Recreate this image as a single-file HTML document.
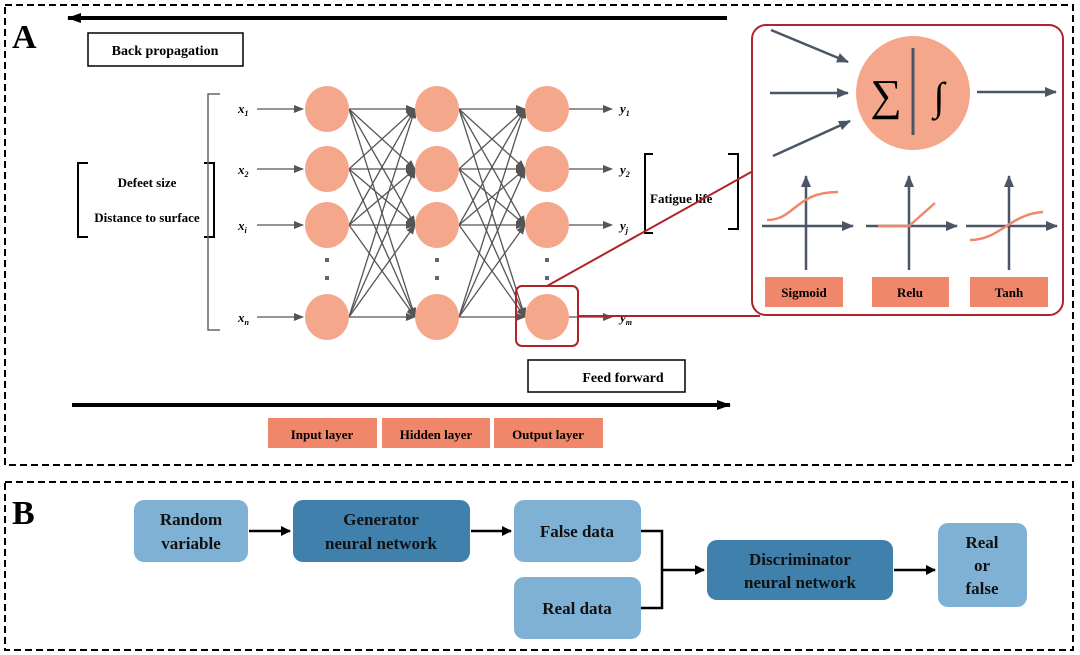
<!DOCTYPE html>
<html><head><meta charset="utf-8"><style>
html,body{margin:0;padding:0;background:#fff;}
svg{display:block;}
text{font-family:"Liberation Serif",serif;font-weight:bold;}
text.n{font-weight:normal;}
</style></head><body>
<svg width="1080" height="655" viewBox="0 0 1080 655" xmlns="http://www.w3.org/2000/svg">
<defs>
<marker id="ag" markerWidth="10" markerHeight="8" refX="9" refY="4" orient="auto" markerUnits="userSpaceOnUse"><path d="M0,0 L10,4 L0,8 z" fill="#555"/></marker>
<marker id="ab" markerWidth="14" markerHeight="10" refX="13" refY="5" orient="auto" markerUnits="userSpaceOnUse"><path d="M0,0 L14,5 L0,10 z" fill="#000"/></marker>
<marker id="as" markerWidth="12" markerHeight="10" refX="11" refY="5" orient="auto" markerUnits="userSpaceOnUse"><path d="M0,0 L12,5 L0,10 z" fill="#4a5566"/></marker>
<marker id="ak" markerWidth="10" markerHeight="10" refX="9" refY="5" orient="auto" markerUnits="userSpaceOnUse"><path d="M0,0 L10,5 L0,10 z" fill="#000"/></marker>
</defs>
<rect x="5" y="5" width="1068" height="460" fill="none" stroke="#000" stroke-width="2" stroke-dasharray="7,4"/>
<rect x="5" y="482" width="1068" height="168" fill="none" stroke="#000" stroke-width="2" stroke-dasharray="7,4"/>
<text x="12" y="48" font-size="34">A</text>
<text x="12" y="524" font-size="34">B</text>
<line x1="727" y1="18" x2="68" y2="18" stroke="#000" stroke-width="4" marker-end="url(#ab)"/>
<line x1="72" y1="405" x2="730" y2="405" stroke="#000" stroke-width="4" marker-end="url(#ab)"/>
<rect x="88" y="33" width="155" height="33" fill="#fff" stroke="#000" stroke-width="1.5"/>
<text x="165" y="55" font-size="14" text-anchor="middle">Back propagation</text>
<rect x="528" y="360" width="157" height="32" fill="#fff" stroke="#000" stroke-width="1.5"/>
<text x="623" y="382" font-size="14" text-anchor="middle">Feed forward</text>
<path d="M88,163 H78 V237 H88 M204,163 H214 V237 H204" fill="none" stroke="#000" stroke-width="2"/>
<text x="147" y="187" font-size="13" text-anchor="middle">Defeet size</text>
<text x="147" y="222" font-size="13" text-anchor="middle">Distance to surface</text>
<path d="M220,94 H208 V330 H220" fill="none" stroke="#666" stroke-width="1.5"/>
<path d="M653,154 H645 V233 H653 M728,154 H738 V229 H728" fill="none" stroke="#000" stroke-width="2"/>
<text x="650" y="203" font-size="13">Fatigue life</text>
<g stroke="#555" stroke-width="1.3">
<line x1="349" y1="109" x2="415" y2="109" marker-end="url(#ag)"/><line x1="349" y1="109" x2="415" y2="169" marker-end="url(#ag)"/><line x1="349" y1="109" x2="415" y2="225" marker-end="url(#ag)"/><line x1="349" y1="109" x2="415" y2="317" marker-end="url(#ag)"/>
<line x1="349" y1="169" x2="415" y2="109" marker-end="url(#ag)"/><line x1="349" y1="169" x2="415" y2="169" marker-end="url(#ag)"/><line x1="349" y1="169" x2="415" y2="225" marker-end="url(#ag)"/><line x1="349" y1="169" x2="415" y2="317" marker-end="url(#ag)"/>
<line x1="349" y1="225" x2="415" y2="109" marker-end="url(#ag)"/><line x1="349" y1="225" x2="415" y2="169" marker-end="url(#ag)"/><line x1="349" y1="225" x2="415" y2="225" marker-end="url(#ag)"/><line x1="349" y1="225" x2="415" y2="317" marker-end="url(#ag)"/>
<line x1="349" y1="317" x2="415" y2="109" marker-end="url(#ag)"/><line x1="349" y1="317" x2="415" y2="169" marker-end="url(#ag)"/><line x1="349" y1="317" x2="415" y2="225" marker-end="url(#ag)"/><line x1="349" y1="317" x2="415" y2="317" marker-end="url(#ag)"/>
<line x1="459" y1="109" x2="525" y2="109" marker-end="url(#ag)"/><line x1="459" y1="109" x2="525" y2="169" marker-end="url(#ag)"/><line x1="459" y1="109" x2="525" y2="225" marker-end="url(#ag)"/><line x1="459" y1="109" x2="525" y2="317" marker-end="url(#ag)"/>
<line x1="459" y1="169" x2="525" y2="109" marker-end="url(#ag)"/><line x1="459" y1="169" x2="525" y2="169" marker-end="url(#ag)"/><line x1="459" y1="169" x2="525" y2="225" marker-end="url(#ag)"/><line x1="459" y1="169" x2="525" y2="317" marker-end="url(#ag)"/>
<line x1="459" y1="225" x2="525" y2="109" marker-end="url(#ag)"/><line x1="459" y1="225" x2="525" y2="169" marker-end="url(#ag)"/><line x1="459" y1="225" x2="525" y2="225" marker-end="url(#ag)"/><line x1="459" y1="225" x2="525" y2="317" marker-end="url(#ag)"/>
<line x1="459" y1="317" x2="525" y2="109" marker-end="url(#ag)"/><line x1="459" y1="317" x2="525" y2="169" marker-end="url(#ag)"/><line x1="459" y1="317" x2="525" y2="225" marker-end="url(#ag)"/><line x1="459" y1="317" x2="525" y2="317" marker-end="url(#ag)"/>
<line x1="257" y1="109" x2="303" y2="109" marker-end="url(#ag)"/><line x1="257" y1="169" x2="303" y2="169" marker-end="url(#ag)"/><line x1="257" y1="225" x2="303" y2="225" marker-end="url(#ag)"/><line x1="257" y1="317" x2="303" y2="317" marker-end="url(#ag)"/>
<line x1="569" y1="109" x2="612" y2="109" marker-end="url(#ag)"/><line x1="569" y1="169" x2="612" y2="169" marker-end="url(#ag)"/><line x1="569" y1="225" x2="612" y2="225" marker-end="url(#ag)"/><line x1="569" y1="317" x2="612" y2="317" marker-end="url(#ag)"/>
</g>
<g fill="#f5a78c">
<ellipse cx="327" cy="109" rx="22" ry="23"/><ellipse cx="327" cy="169" rx="22" ry="23"/><ellipse cx="327" cy="225" rx="22" ry="23"/><ellipse cx="327" cy="317" rx="22" ry="23"/>
<ellipse cx="437" cy="109" rx="22" ry="23"/><ellipse cx="437" cy="169" rx="22" ry="23"/><ellipse cx="437" cy="225" rx="22" ry="23"/><ellipse cx="437" cy="317" rx="22" ry="23"/>
<ellipse cx="547" cy="109" rx="22" ry="23"/><ellipse cx="547" cy="169" rx="22" ry="23"/><ellipse cx="547" cy="225" rx="22" ry="23"/><ellipse cx="547" cy="317" rx="22" ry="23"/>
</g>
<g fill="#666"><rect x="325" y="258" width="4" height="4"/><rect x="325" y="276" width="4" height="4"/><rect x="435" y="258" width="4" height="4"/><rect x="435" y="276" width="4" height="4"/><rect x="545" y="258" width="4" height="4"/><rect x="545" y="276" width="4" height="4"/></g>
<g font-size="13" font-style="italic">
<text x="238" y="113">x<tspan font-size="8" dy="3">1</tspan></text><text x="238" y="174">x<tspan font-size="8" dy="3">2</tspan></text><text x="238" y="230">x<tspan font-size="8" dy="3">i</tspan></text><text x="238" y="322">x<tspan font-size="8" dy="3">n</tspan></text>
<text x="620" y="113">y<tspan font-size="8" dy="3">1</tspan></text><text x="620" y="174">y<tspan font-size="8" dy="3">2</tspan></text><text x="620" y="230">y<tspan font-size="8" dy="3">j</tspan></text><text x="620" y="322">y<tspan font-size="8" dy="3">m</tspan></text>
</g>
<g stroke="#b0232a" stroke-width="2" fill="none">
<rect x="516" y="286" width="62" height="60" rx="6"/>
<line x1="547" y1="286" x2="753" y2="171"/>
<line x1="578" y1="316" x2="760" y2="316"/>
<rect x="752" y="25" width="311" height="290" rx="14" fill="#fff"/>
</g>
<circle cx="913" cy="93" r="57" fill="#f5a78c"/>
<line x1="913" y1="48" x2="913" y2="135" stroke="#4a5566" stroke-width="3"/>
<text class="n" x="886" y="110" font-size="44" text-anchor="middle">∑</text>
<text class="n" x="939" y="110" font-size="40" text-anchor="middle">∫</text>
<g stroke="#4a5566" stroke-width="2.5">
<line x1="771" y1="30" x2="848" y2="62" marker-end="url(#as)"/>
<line x1="770" y1="93" x2="848" y2="93" marker-end="url(#as)"/>
<line x1="773" y1="156" x2="850" y2="121" marker-end="url(#as)"/>
<line x1="977" y1="92" x2="1056" y2="92" marker-end="url(#as)"/>
<line x1="806" y1="270" x2="806" y2="176" marker-end="url(#as)"/><line x1="762" y1="226" x2="853" y2="226" marker-end="url(#as)"/>
<line x1="909" y1="270" x2="909" y2="176" marker-end="url(#as)"/><line x1="866" y1="226" x2="957" y2="226" marker-end="url(#as)"/>
<line x1="1009" y1="270" x2="1009" y2="176" marker-end="url(#as)"/><line x1="966" y1="226" x2="1057" y2="226" marker-end="url(#as)"/>
</g>
<g stroke="#f0876a" stroke-width="2.5" fill="none">
<path d="M767,220 C795,220 795,192 838,192"/>
<path d="M878,226 H909 L935,203"/>
<path d="M970,240 C1000,240 1010,214 1043,212"/>
</g>
<g fill="#f0876a">
<rect x="765" y="277" width="78" height="30"/><rect x="872" y="277" width="77" height="30"/><rect x="970" y="277" width="78" height="30"/>
<rect x="268" y="418" width="109" height="30"/><rect x="382" y="418" width="108" height="30"/><rect x="494" y="418" width="109" height="30"/>
</g>
<g font-size="13" text-anchor="middle">
<text x="804" y="297">Sigmoid</text><text x="910" y="297">Relu</text><text x="1009" y="297">Tanh</text>
<text x="322" y="439">Input layer</text><text x="436" y="439">Hidden layer</text><text x="548" y="439">Output layer</text>
</g>
<g>
<rect x="134" y="500" width="114" height="62" rx="10" fill="#7fb1d5"/>
<rect x="293" y="500" width="177" height="62" rx="10" fill="#3f80ad"/>
<rect x="514" y="500" width="127" height="62" rx="10" fill="#7fb1d5"/>
<rect x="514" y="577" width="127" height="62" rx="10" fill="#7fb1d5"/>
<rect x="707" y="540" width="186" height="60" rx="10" fill="#3f80ad"/>
<rect x="938" y="523" width="89" height="84" rx="10" fill="#7fb1d5"/>
</g>
<g stroke="#000" stroke-width="2.5" fill="none">
<line x1="249" y1="531" x2="290" y2="531" marker-end="url(#ak)"/>
<line x1="471" y1="531" x2="511" y2="531" marker-end="url(#ak)"/>
<path d="M641,531 H662 V608 H641"/>
<line x1="662" y1="570" x2="704" y2="570" marker-end="url(#ak)"/>
<line x1="894" y1="570" x2="935" y2="570" marker-end="url(#ak)"/>
</g>
<g font-size="17" text-anchor="middle" fill="#111">
<text x="191" y="525">Random</text><text x="191" y="549">variable</text>
<text x="381" y="525">Generator</text><text x="381" y="549">neural network</text>
<text x="577" y="537">False data</text>
<text x="577" y="614">Real data</text>
<text x="800" y="565">Discriminator</text><text x="800" y="588">neural network</text>
<text x="982" y="548">Real</text><text x="982" y="571">or</text><text x="982" y="594">false</text>
</g>
</svg>
</body></html>
